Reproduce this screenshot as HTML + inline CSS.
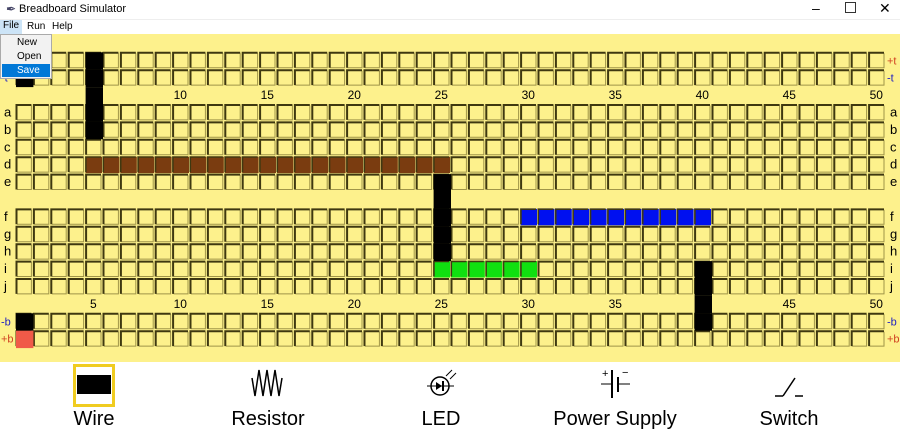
<!DOCTYPE html>
<html><head><meta charset="utf-8"><style>
body{margin:0;width:900px;height:432px;overflow:hidden;background:#fff;font-family:"Liberation Sans",sans-serif;position:relative}
.title{position:absolute;left:0;top:0;width:900px;height:19px;font-size:11px}
.menubar{position:absolute;top:19px;left:0;width:900px;height:15px;font-size:10px;border-top:1px solid #eee}
.menubar span{position:absolute;top:1px}
.dd{position:absolute;left:0;top:34px;width:50px;height:43px;background:#f2f2f2;border:1px solid #aaa;font-size:10px;z-index:5}
.dd div{height:13px;padding-left:15px;line-height:13px;margin:1px}
.lab{position:absolute;font-size:20px;transform:translateX(-50%);top:408px}
</style></head><body>
<div class="title">
<span style="position:absolute;left:6px;top:2px;font-size:12px;color:#446">&#x2712;</span>
<span style="position:absolute;left:19px;top:3px">Breadboard Simulator</span>
<span style="position:absolute;left:812px;top:0;font-size:14px">&#x2013;</span>
<span style="position:absolute;left:845px;top:2px;width:9px;height:9px;border:1px solid #333"></span>
<span style="position:absolute;left:879px;top:0;font-size:14px">&#x2715;</span>
</div>
<div class="menubar">
<span style="left:0;background:#cce4f7;padding:0 3px;top:0;height:14px">File</span>
<span style="left:27px">Run</span>
<span style="left:52px">Help</span>
</div>
<div class="dd">
<div>New</div>
<div>Open</div>
<div style="background:#0078d7;color:#fff">Save</div>
</div>
<svg id="bb" width="900" height="432" style="position:absolute;left:0;top:0"></svg>
<div style="position:absolute;left:73px;top:364px;width:36px;height:37px;border:3px solid #f0cc20"><div style="margin:8px 1px;height:19px;background:#000"></div></div>
<svg style="position:absolute;left:250px;top:366px" width="36" height="36"><polyline points="2,12 5,30 9,4 13,30 17,4 21,30 25,4 29,30 32,12" fill="none" stroke="#000" stroke-width="1.5"/></svg>
<svg style="position:absolute;left:424px;top:366px" width="36" height="36"><circle cx="16" cy="20" r="9" fill="none" stroke="#000" stroke-width="1.5"/><line x1="3" y1="20" x2="30" y2="20" stroke="#000"/><polygon points="12,16 12,24 18,20" fill="#000"/><line x1="19" y1="15" x2="19" y2="25" stroke="#000" stroke-width="2"/><line x1="22" y1="10" x2="28" y2="4" stroke="#000"/><line x1="26" y1="13" x2="32" y2="7" stroke="#000"/></svg>
<svg style="position:absolute;left:597px;top:366px" width="36" height="36"><line x1="4" y1="18" x2="15" y2="18" stroke="#000"/><line x1="15" y1="4" x2="15" y2="32" stroke="#000" stroke-width="2"/><line x1="21" y1="11" x2="21" y2="26" stroke="#000" stroke-width="2"/><line x1="21" y1="18" x2="33" y2="18" stroke="#000"/><text x="5" y="11" font-size="11">+</text><text x="25" y="10" font-size="11">&#x2212;</text></svg>
<svg style="position:absolute;left:771px;top:366px" width="36" height="36"><line x1="4" y1="30" x2="12" y2="30" stroke="#000" stroke-width="1.5"/><line x1="12" y1="30" x2="24" y2="12" stroke="#000" stroke-width="1.5"/><line x1="24" y1="30" x2="32" y2="30" stroke="#000" stroke-width="1.5"/></svg>
<div class="lab" style="left:94px">Wire</div>
<div class="lab" style="left:268px">Resistor</div>
<div class="lab" style="left:441px">LED</div>
<div class="lab" style="left:615px">Power Supply</div>
<div class="lab" style="left:789px">Switch</div>
<script>
const rowKeys=['+t','-t','a','b','c','d','e','f','g','h','i','j','-b','+b'];
const rowSlots=[0,1,3,4,5,6,7,9,10,11,12,13,15,16];
const numSlots=[2,14];
const colLabels=[5,10,15,20,25,30,35,40,45,50];
const wireCols=[5,1,1,1,25,40];
const wireSlotStart=[0,1,15,16,7,12];
const wireSlotEnd=[4,1,15,16,11,15];
const wireColors=['#000','#000','#000','#f05a48','#000','#000'];
const hRow=[6,9,12];
const hColStart=[5,30,25];
const hColEnd=[25,40,30];
const hColors=['#7a3c10','#0010f0','#10e010'];
const NS='http://www.w3.org/2000/svg',svg=document.getElementById('bb');
const P=17.4,X0=15,Y0=51.3;
const cx=c=>X0+(c-1)*P, sy=s=>Y0+s*P;
function mk(t,a,p){const e=document.createElementNS(NS,t);for(const k in a)e.setAttribute(k,a[k]);(p||svg).appendChild(e);return e;}
const bg=mk('rect',{x:0,y:34,width:900,height:328,fill:'#fdf18c'});


function tl(x,y){return 'M'+(x+1.5)+','+(y+P-1)+'V'+(y+1.5)+'H'+(x+P-1);}
function br(x,y){return 'M'+(x+2)+','+(y+P-1)+'H'+(x+P-1)+'V'+(y+2);}
rowKeys.forEach((k,i)=>{const s=rowSlots[i];
 for(let c=1;c<=50;c++){
  const g=mk('g',{});
  
  
  mk('path',{d:br(cx(c),sy(s)),fill:'none',stroke:'#a09548','stroke-width':1},g);
  mk('path',{d:tl(cx(c),sy(s)),fill:'none',stroke:'#3e3810','stroke-width':2},g);
 }
 const isBus=k.length>1;
 const col=k[0]=='+'?'#d04020':(k[0]=='-'?'#2020c0':'#000');
 const l=mk('text',{x:isBus?1:4,y:sy(s)+13,'font-size':isBus?11:13,fill:col});l.textContent=k;
 
 
 const r2=mk('text',{x:isBus?887:890,y:sy(s)+13,'font-size':isBus?11:13,fill:col});r2.textContent=k;
 
 
});
numSlots.forEach(s=>colLabels.forEach(n=>{const t=mk('text',{x:cx(n)+P/2,y:sy(s)+13,'font-size':12,'text-anchor':'middle'});t.textContent=n;
 
 }));
hRow.forEach((s,i)=>{for(let c=hColStart[i];c<=hColEnd[i];c++){const r=mk('rect',{x:cx(c)+1,y:sy(s)+1,width:P-1,height:P-1,fill:hColors[i]});
 
 
 const b=mk('path',{d:tl(cx(c),sy(s)),fill:'none',stroke:'#3e3810','stroke-width':1.2});
 
 }});
wireCols.forEach((c,i)=>{for(let s=wireSlotStart[i];s<=wireSlotEnd[i];s++){const r=mk('rect',{x:cx(c)+1,y:sy(s)+1,width:P,height:P,fill:wireColors[i]});
 
 }});
</script>
</body></html>
